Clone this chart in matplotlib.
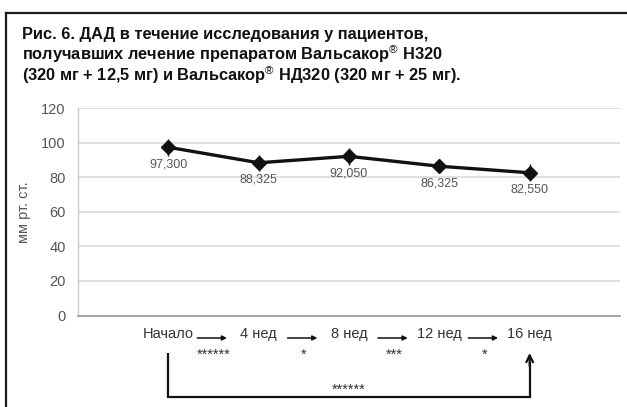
import matplotlib
matplotlib.use("Agg")
import matplotlib.pyplot as plt
from matplotlib.lines import Line2D

# Data
categories = ["Начало", "4 нед", "8 нед", "12 нед", "16 нед"]
dad_values = [97.300, 88.325, 92.050, 86.325, 82.550]
dad_errors = [5.0, 4.5, 5.0, 4.0, 5.0]
value_labels = ["97,300", "88,325", "92,050", "86,325", "82,550"]
step_stars = ["******", "*", "***", "*"]
total_stars = "******"
y_ticks = [0, 20, 40, 60, 80, 100, 120]
title_lines = ["Рис. 6. ДАД в течение исследования у пациентов,",
               "получавших лечение препаратом Вальсакор$^{®}$ Н320",
               "(320 мг + 12,5 мг) и Вальсакор$^{®}$ НД320 (320 мг + 25 мг)."]
y_label = "мм рт. ст."

plt.rcParams["font.family"] = ["Liberation Sans", "DejaVu Sans"]
plt.rcParams["mathtext.fontset"] = "custom"
plt.rcParams["mathtext.rm"] = "Liberation Sans"
plt.rcParams["mathtext.it"] = "Liberation Sans"
plt.rcParams["mathtext.bf"] = "Liberation Sans:bold"

W, H = 627, 407
fig = plt.figure(figsize=(W / 100, H / 100), dpi=100)
fig.patch.set_facecolor("white")

# Outer frame (top and left rules)
fig.add_artist(Line2D([6 / W, 1.0], [1 - 12.5 / H, 1 - 12.5 / H], color="#1a1a1a", lw=1.6,
                      transform=fig.transFigure))
fig.add_artist(Line2D([6 / W, 6 / W], [1 - 12.5 / H, 0.0], color="#1a1a1a", lw=1.6,
                      transform=fig.transFigure))

# Caption, one line at a time
for k, line in enumerate(title_lines):
    fig.text(22 / W, 1 - (39 + 21 * k) / H, line, ha="left", va="baseline",
             fontsize=11.8, fontweight="bold", color="#111111")

ax_left, ax_right, ax_top, ax_bottom = 78, 620, 108, 315.5
ax = fig.add_axes([ax_left / W, 1 - ax_bottom / H, (ax_right - ax_left) / W,
                   (ax_bottom - ax_top) / H])

x = list(range(len(categories)))
ax.errorbar(x, dad_values, yerr=dad_errors, fmt="none", ecolor="#111111",
            elinewidth=1.0, capsize=0, zorder=3)
ax.plot(x, dad_values, color="#111111", lw=2.4, marker="D", markersize=7,
        markerfacecolor="#111111", markeredgecolor="#111111", zorder=4)

for xi, v, lab in zip(x, dad_values, value_labels):
    ax.annotate(lab, (xi, v), xytext=(0, -8), textcoords="offset points",
                ha="center", va="top", fontsize=9, color="#555555")

ax.set_xlim(-1, 5)
ax.set_ylim(0, 120)
ax.set_yticks(y_ticks)
ax.yaxis.grid(True, color="#dadada", lw=1.2)
ax.set_axisbelow(True)
ax.tick_params(axis="y", length=0, pad=9, labelsize=10.5, labelcolor="#555555")
ax.set_xticks(x)
ax.set_xticklabels(categories)
ax.tick_params(axis="x", length=0, pad=8, labelsize=10.5, labelcolor="#333333")

for side in ("top", "right"):
    ax.spines[side].set_visible(False)
ax.spines["left"].set_color("#cccccc")
ax.spines["left"].set_linewidth(1.0)
ax.spines["bottom"].set_color("#999999")
ax.spines["bottom"].set_linewidth(1.2)

ax.set_ylabel(y_label, fontsize=10.5, color="#555555")
ax.yaxis.set_label_coords(-0.086, 0.5)

# Transitions between visits and their significance
tr = ax.get_xaxis_transform()
ax_h = ax_bottom - ax_top

def yf(py):
    return (ax_bottom - py) / ax_h

for i, stars in enumerate(step_stars):
    ax.annotate("", xy=(i + 0.65, yf(338)), xytext=(i + 0.32, yf(338)),
                xycoords=tr, textcoords=tr, annotation_clip=False,
                arrowprops=dict(arrowstyle="-|>", color="#111111", lw=1.1,
                                mutation_scale=7, shrinkA=0, shrinkB=0))
    ax.text(i + 0.5, yf(358.5), stars, transform=tr, ha="center", va="baseline",
            fontsize=10.5, color="#333333", clip_on=False)

# Baseline to final visit bracket
ax.plot([0, 0, 4, 4], [yf(353), yf(397), yf(397), yf(362)], transform=tr,
        color="#111111", lw=1.6, clip_on=False, solid_capstyle="butt",
        solid_joinstyle="miter")
ax.annotate("", xy=(4, yf(353)), xytext=(4, yf(366)), xycoords=tr, textcoords=tr,
            annotation_clip=False,
            arrowprops=dict(arrowstyle="->", color="#111111", lw=1.6,
                            mutation_scale=12, shrinkA=0, shrinkB=0))
ax.text(2, yf(394), total_stars, transform=tr, ha="center", va="baseline",
        fontsize=10.5, color="#333333", clip_on=False)

fig.savefig("out.png", dpi=100, facecolor="white")
